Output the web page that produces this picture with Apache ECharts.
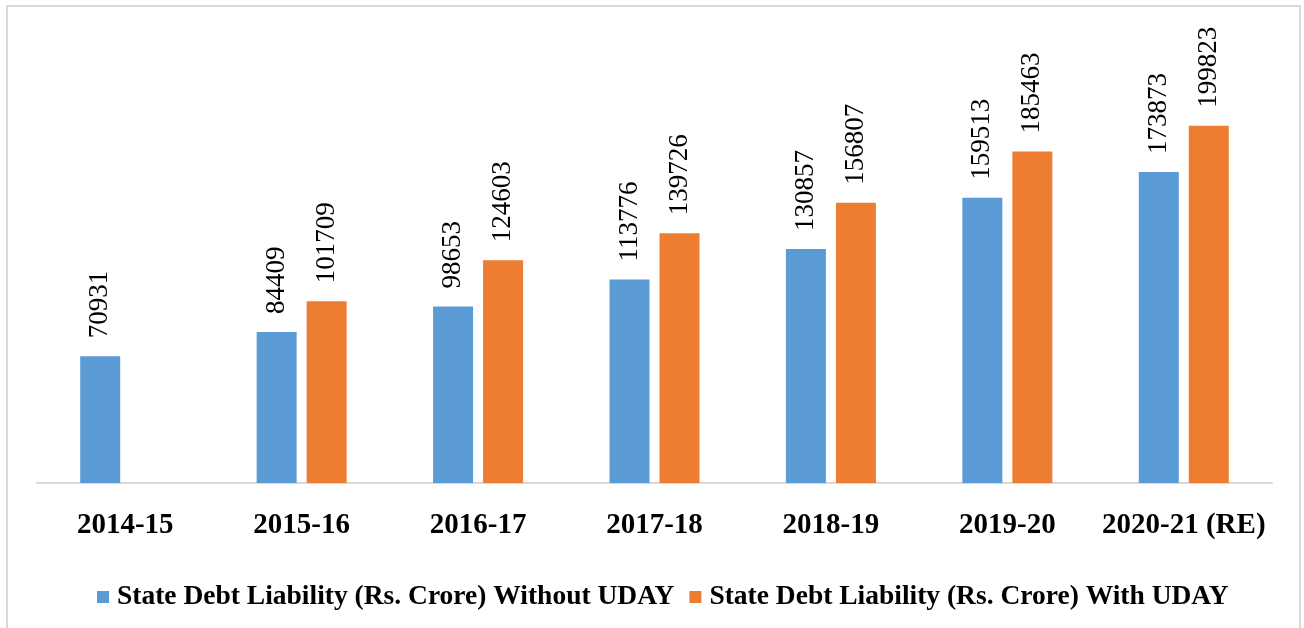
<!DOCTYPE html>
<html>
<head>
<meta charset="utf-8">
<script src="https://cdn.jsdelivr.net/npm/echarts@6/dist/echarts.min.js"></script>
<style>
  html, body { margin: 0; padding: 0; background: #fff; }
  #chart { width: 1304px; height: 628px; }
</style>
</head>
<body>
<div id="chart"></div>
<script>
const years = ['2014-15', '2015-16', '2016-17', '2017-18', '2018-19', '2019-20', '2020-21 (RE)']
const withoutUday = [70931, 84409, 98653, 113776, 130857, 159513, 173873]
const withUday = [null, 101709, 124603, 139726, 156807, 185463, 199823]
const seriesNames = [
  'State Debt Liability (Rs. Crore) Without UDAY',
  'State Debt Liability (Rs. Crore) With UDAY'
]

const serif = '"Liberation Serif", "Times New Roman", serif'

const valueLabel = {
  show: true,
  position: 'top',
  rotate: 90,
  align: 'left',
  verticalAlign: 'middle',
  distance: 18,
  color: '#000',
  fontFamily: serif,
  fontSize: 27
}

const chart = echarts.init(document.getElementById('chart'))

chart.setOption({
  animation: false,
  graphic: [{
    type: 'rect',
    shape: { x: 7, y: 6, width: 1293, height: 660 },
    style: { fill: 'none', stroke: '#d9d9d9', lineWidth: 2 },
    silent: true
  }],
  grid: {
    left: 37,
    right: 32,
    top: 36,
    bottom: 145
  },
  legend: {
    left: 92,
    top: 578,
    itemWidth: 12,
    itemHeight: 12,
    itemGap: 15,
    icon: 'rect',
    textStyle: {
      fontFamily: serif,
      fontWeight: 'bold',
      fontSize: 27.5,
      color: '#000',
      padding: [0, 0, 0, 3]
    },
    data: seriesNames
  },
  xAxis: {
    type: 'category',
    data: years,
    axisLine: { lineStyle: { color: '#d9d9d9', width: 2 } },
    axisTick: { show: false },
    axisLabel: {
      interval: 0,
      margin: 28,
      color: '#000',
      fontFamily: serif,
      fontWeight: 'bold',
      fontSize: 29
    }
  },
  yAxis: {
    type: 'value',
    min: 0,
    max: 250000,
    show: false,
    splitLine: { show: false }
  },
  series: [
    {
      name: seriesNames[0],
      type: 'bar',
      data: withoutUday,
      barWidth: 40,
      barGap: '25%',
      itemStyle: { color: '#5B9BD5' },
      label: valueLabel
    },
    {
      name: seriesNames[1],
      type: 'bar',
      data: withUday,
      barWidth: 40,
      itemStyle: { color: '#ED7D31' },
      label: valueLabel
    }
  ]
})

window.addEventListener('resize', () => chart.resize())
</script>
</body>
</html>
